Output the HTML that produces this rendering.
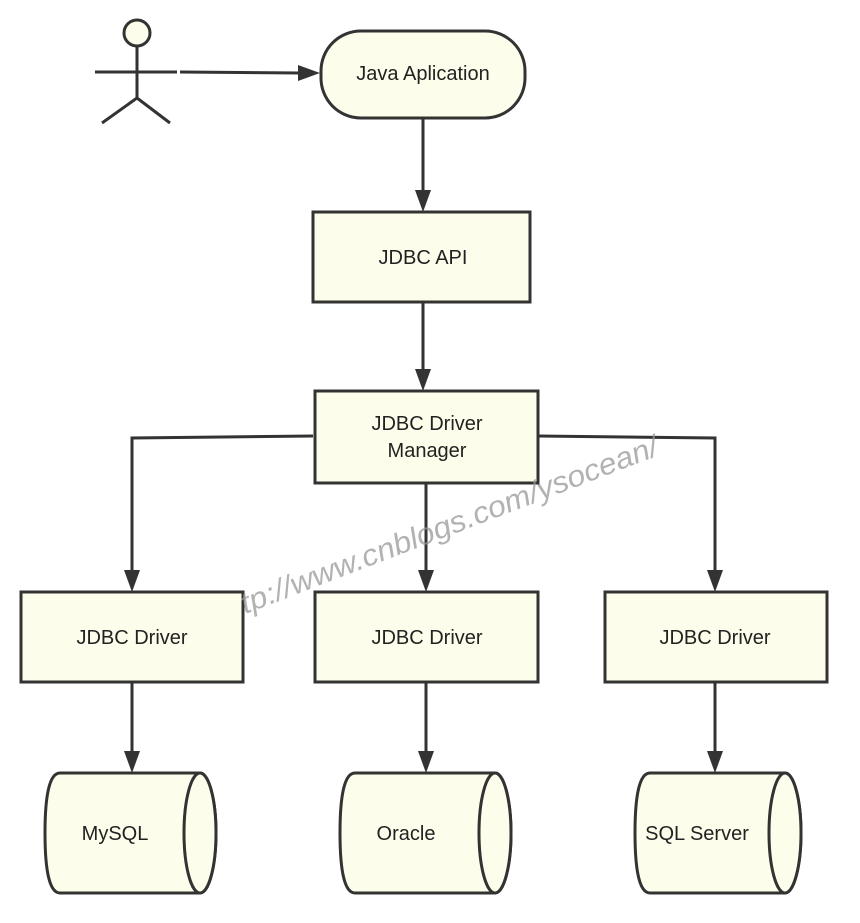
<!DOCTYPE html><html><head><style>body{margin:0;background:#fff}</style></head><body>
<svg width="860" height="918" xmlns="http://www.w3.org/2000/svg" font-family="Liberation Sans, sans-serif">
<g stroke="#333" stroke-width="3" fill="none">
<circle cx="137" cy="33" r="13" fill="#fdfdeb"/>
<line x1="137" y1="46" x2="137" y2="98"/><line x1="95" y1="72" x2="177" y2="72"/>
<line x1="137" y1="98" x2="102" y2="123"/><line x1="137" y1="98" x2="170" y2="123"/>
</g>
<g stroke="#333" stroke-width="3" fill="none">
<line x1="180" y1="72" x2="300" y2="73"/><path d="M298,65 L320,73 L298,81z" fill="#333" stroke="none"/>
<line x1="423" y1="118" x2="423" y2="190"/><path d="M415,190 L423,212 L431,190z" fill="#333" stroke="none"/>
<line x1="423" y1="302" x2="423" y2="369"/><path d="M415,369 L423,391 L431,369z" fill="#333" stroke="none"/>
<polyline points="313,436 132,438 132,570"/><path d="M124,570 L132,592 L140,570z" fill="#333" stroke="none"/>
<line x1="426" y1="483" x2="426" y2="570"/><path d="M418,570 L426,592 L434,570z" fill="#333" stroke="none"/>
<polyline points="538,436 715,438 715,570"/><path d="M707,570 L715,592 L723,570z" fill="#333" stroke="none"/>
<line x1="132" y1="682" x2="132" y2="751"/><path d="M124,751 L132,773 L140,751z" fill="#333" stroke="none"/>
<line x1="426" y1="682" x2="426" y2="751"/><path d="M418,751 L426,773 L434,751z" fill="#333" stroke="none"/>
<line x1="715" y1="682" x2="715" y2="751"/><path d="M707,751 L715,773 L723,751z" fill="#333" stroke="none"/>
</g>
<g stroke="#333" stroke-width="3" fill="#fdfdeb">
<rect x="321" y="31" width="204" height="87" rx="40"/>
<rect x="313" y="212" width="217" height="90"/>
<rect x="315" y="391" width="223" height="92"/>
<rect x="21" y="592" width="222" height="90"/>
<rect x="315" y="592" width="223" height="90"/>
<rect x="605" y="592" width="222" height="90"/>
<path d="M60,773 L200,773 A16,60 0 0 1 200,893 L60,893 Q45,893 45,833 Q45,773 60,773z"/><ellipse cx="200" cy="833" rx="16" ry="60"/>
<path d="M355,773 L495,773 A16,60 0 0 1 495,893 L355,893 Q340,893 340,833 Q340,773 355,773z"/><ellipse cx="495" cy="833" rx="16" ry="60"/>
<path d="M650,773 L785,773 A16,60 0 0 1 785,893 L650,893 Q635,893 635,833 Q635,773 650,773z"/><ellipse cx="785" cy="833" rx="16" ry="60"/>
</g>
<g fill="#222" font-size="20" text-anchor="middle">
<text x="423" y="80">Java Aplication</text>
<text x="423" y="264">JDBC API</text>
<text x="427" y="430">JDBC Driver</text><text x="427" y="457">Manager</text>
<text x="132" y="644">JDBC Driver</text>
<text x="427" y="644">JDBC Driver</text>
<text x="715" y="644">JDBC Driver</text>
<text x="115" y="840">MySQL</text>
<text x="406" y="840">Oracle</text>
<text x="697" y="840">SQL Server</text>
</g>
<text x="245" y="614" font-size="30" fill="#999" opacity="0.75" font-style="italic" textLength="445" lengthAdjust="spacingAndGlyphs" transform="rotate(-21 245 614)">tp://www.cnblogs.com/ysocean/</text>
</svg></body></html>
